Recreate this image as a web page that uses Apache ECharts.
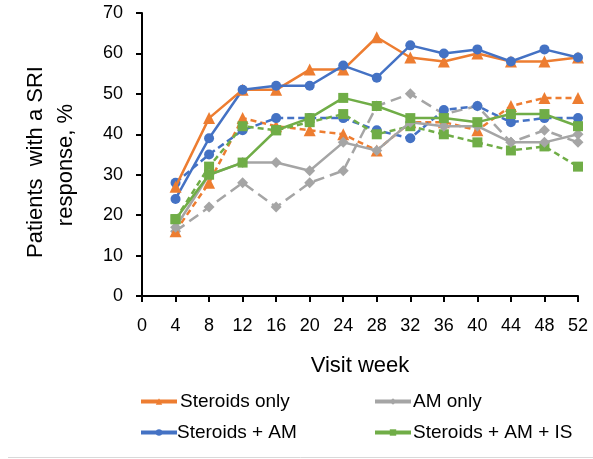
<!DOCTYPE html>
<html><head><meta charset="utf-8">
<script src="https://cdn.jsdelivr.net/npm/echarts@6/dist/echarts.min.js"></script>
<style>html,body{margin:0;padding:0;background:#fff}#c{width:593px;height:459px}</style>
</head><body><div id="c"></div>
<script>
const weeks = [4, 8, 12, 16, 20, 24, 28, 32, 36, 40, 44, 48, 52];
const xTicks = [0, 4, 8, 12, 16, 20, 24, 28, 32, 36, 40, 44, 48, 52];
const yTicks = [0, 10, 20, 30, 40, 50, 60, 70];
const legendNames = ["Steroids only", "AM only", "Steroids + AM", "Steroids + AM + IS"];
const yTitleLines = ["Patients  with a SRI", "response, %"];
const xTitle = "Visit week";

const steroidsOnlySolid  = [27, 44, 51, 51, 56, 56, 64, 59, 58, 60, 58, 58, 59];
const steroidsOnlyDashed = [16, 28, 44, 42, 41, 40, 36, 43, 43, 41, 47, 49, 49];
const amOnlySolid        = [17, 30, 33, 33, 31, 38, 36, 43, 42, 42, 38, 38, 40];
const amOnlyDashed       = [16, 22, 28, 22, 28, 31, 47, 50, 45, 47, 38, 41, 38];
const steroidsAmSolid    = [24, 39, 51, 52, 52, 57, 54, 62, 60, 61, 58, 61, 59];
const steroidsAmDashed   = [28, 35, 41, 44, 44, 44, 41, 39, 46, 47, 43, 44, 44];
const steroidsAmIsSolid  = [19, 30, 33, 41, 44, 49, 47, 44, 44, 43, 45, 45, 42];
const steroidsAmIsDashed = [19, 32, 42, 41, 43, 45, 40, 42, 40, 38, 36, 37, 32];

const colors = {orange: '#ED7D31', gray: '#A5A5A5', blue: '#4472C4', green: '#70AD47'};
const pairs = arr => weeks.map((w, i) => [w, arr[i]]);
const FONT = '"Liberation Sans", Arial, sans-serif';

function mk(name, data, color, symbol, size, dashed) {
  return {
    name, type: 'line', data: pairs(data), symbol, symbolSize: size,
    lineStyle: {color, width: 2.5, type: dashed ? dashed : 'solid'},
    itemStyle: {color}, z: dashed ? 2 : 3, animation: false
  };
}

const series = [
  mk('AM only dashed', amOnlyDashed, colors.gray, 'diamond', 11, [11, 6]),
  mk('Steroids only dashed', steroidsOnlyDashed, colors.orange, 'triangle', 12, [6, 4]),
  mk('Steroids + AM dashed', steroidsAmDashed, colors.blue, 'circle', 10, [7, 4]),
  mk('Steroids + AM + IS dashed', steroidsAmIsDashed, colors.green, 'rect', 10, [6, 4]),
  mk('AM only', amOnlySolid, colors.gray, 'diamond', 11, false),
  mk('Steroids + AM + IS', steroidsAmIsSolid, colors.green, 'rect', 10, false),
  mk('Steroids only', steroidsOnlySolid, colors.orange, 'triangle', 12, false),
  mk('Steroids + AM', steroidsAmSolid, colors.blue, 'circle', 10, false)
];

const legendPos = [[139, 392], [373, 392], [139, 423], [373, 423]];
const legendGap = [3, 2, 0, 2];
const legends = legendNames.map((n, i) => ({
  data: [n], left: legendPos[i][0], top: legendPos[i][1],
  itemWidth: 36, itemHeight: 8, itemGap: 4, padding: 0,
  lineStyle: {width: 4},
  textStyle: {fontFamily: FONT, fontSize: 19, color: '#000', padding: [0, 0, 0, legendGap[i] - 5]},
  selectedMode: false
}));

const chart = echarts.init(document.getElementById('c'), null, {renderer: 'canvas'});
chart.setOption({
  animation: false,
  backgroundColor: '#fff',
  grid: {left: 142, right: 15, top: 13, bottom: 163},
  legend: legends,
  xAxis: {
    type: 'value', min: xTicks[0], max: xTicks[xTicks.length - 1], interval: 4,
    name: xTitle, nameLocation: 'middle', nameGap: 59,
    nameTextStyle: {fontFamily: FONT, fontSize: 22, color: '#000'},
    axisLine: {lineStyle: {color: '#000', width: 2}},
    axisTick: {show: true, length: 6, lineStyle: {color: '#000', width: 2}},
    axisLabel: {fontFamily: FONT, fontSize: 18, color: '#000', margin: 21},
    splitLine: {show: false}
  },
  yAxis: {
    type: 'value', min: yTicks[0], max: yTicks[yTicks.length - 1], interval: 10,
    axisLine: {show: true, lineStyle: {color: '#000', width: 2}},
    axisTick: {show: true, length: 6, lineStyle: {color: '#000', width: 2}},
    axisLabel: {fontFamily: FONT, fontSize: 18, color: '#000', margin: 19},
    splitLine: {show: false}
  },
  graphic: [
    {type: 'text', x: 36, y: 162, rotation: Math.PI / 2,
     style: {text: yTitleLines[0], font: '22px ' + FONT, fill: '#000', align: 'center', verticalAlign: 'middle'}},
    {type: 'text', x: 66, y: 165, rotation: Math.PI / 2,
     style: {text: yTitleLines[1], font: '22px ' + FONT, fill: '#000', align: 'center', verticalAlign: 'middle'}},
    {type: 'line', shape: {x1: 8, y1: 457.5, x2: 593, y2: 457.5}, style: {stroke: '#d9d9d9', lineWidth: 1}}
  ],
  series
});
</script></body></html>
